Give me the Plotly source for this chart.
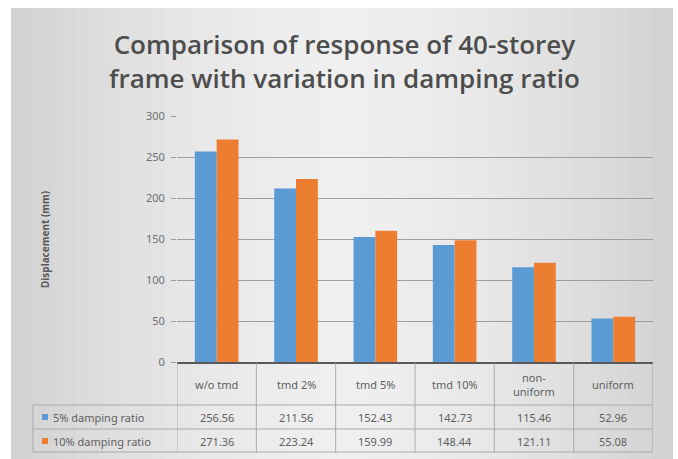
import plotly.graph_objects as go

categories = ["w/o tmd", "tmd 2%", "tmd 5%", "tmd 10%", "non-uniform", "uniform"]
header_labels = ["w/o tmd", "tmd 2%", "tmd 5%", "tmd 10%", "non-<br>uniform", "uniform"]
series_names = ["5% damping ratio", "10% damping ratio"]
damp5 = [256.56, 211.56, 152.43, 142.73, 115.46, 52.96]
damp10 = [271.36, 223.24, 159.99, 148.44, 121.11, 55.08]
y_ticks = [0, 50, 100, 150, 200, 250, 300]

colors = ["#5B9BD5", "#ED7D31"]
W, H = 678, 459
ML, MR, MT, MB = 177, 25, 116, 97
PW = W - ML - MR
PH = H - MT - MB

def px(x):
    return (x - ML) / PW

def py(y):
    return (H - MB - y) / PH

fig = go.Figure()
for name, vals, col in zip(series_names, [damp5, damp10], colors):
    fig.add_trace(go.Bar(x=categories, y=vals, name=name, marker=dict(color=col, line=dict(width=0)),
                         showlegend=False, hoverinfo="skip"))

shapes = []
# background gradient (horizontal strips)
x0, x1, y0, y1 = 11, 673, 8, 459
n = 60
for i in range(n):
    t = (i + 0.5) / n
    d = abs(t - 0.5) * 2
    v = int(round(239 - 30 * d ** 1.6))
    c = f"rgb({v},{v},{v})"
    xa = x0 + (x1 - x0) * i / n
    xb = x0 + (x1 - x0) * (i + 1) / n + 0.6
    shapes.append(dict(type="rect", xref="paper", yref="paper", x0=px(xa), x1=px(min(xb, x1)),
                       y0=py(y1), y1=py(y0), fillcolor=c, line=dict(width=0), layer="below"))

# table lines
tcol = "#a9a9a9"
row_lines = [405, 429, 452]
for ry in row_lines:
    shapes.append(dict(type="line", xref="paper", yref="paper", x0=px(33), x1=px(653),
                       y0=py(ry), y1=py(ry), line=dict(color=tcol, width=1)))
# vertical lines at category boundaries
for i in range(len(categories) + 1):
    shapes.append(dict(type="line", xref="x", yref="paper", x0=i - 0.5, x1=i - 0.5,
                       y0=py(363), y1=py(452), line=dict(color=tcol, width=1)))
shapes.append(dict(type="line", xref="paper", yref="paper", x0=px(33), x1=px(33),
                   y0=py(405), y1=py(452), line=dict(color=tcol, width=1)))
# legend keys
for k, ry in enumerate([417, 441]):
    shapes.append(dict(type="rect", xref="paper", yref="paper", x0=px(42), x1=px(48),
                       y0=py(ry + 3), y1=py(ry - 3), fillcolor=colors[k], line=dict(width=0)))

annotations = []
tf = dict(family="Noto Sans", size=11, color="#5f5f5f")
for i, lab in enumerate(header_labels):
    annotations.append(dict(x=i, xref="x", y=py(384), yref="paper", text=lab, showarrow=False,
                            font=tf, xanchor="center", yanchor="middle"))
for vals, ry in zip([damp5, damp10], [417, 441]):
    for i, v in enumerate(vals):
        annotations.append(dict(x=i, xref="x", y=py(ry), yref="paper", text=f"{v:.2f}", showarrow=False,
                                font=tf, xanchor="center", yanchor="middle"))
for name, ry in zip(series_names, [417, 441]):
    annotations.append(dict(x=px(51), xref="paper", y=py(ry), yref="paper", text=name, showarrow=False,
                            font=tf, xanchor="left", yanchor="middle"))
annotations.append(dict(x=px(45), xref="paper", y=py(240), yref="paper", text="<b>Displacement (mm)</b>",
                        showarrow=False, textangle=-90, font=dict(family="Noto Sans", size=10, color="#595959"),
                        xanchor="center", yanchor="middle"))
annotations.append(dict(x=px(344), xref="paper", y=py(61), yref="paper",
                        text="Comparison of response of 40-storey<br>frame with variation in damping ratio",
                        showarrow=False, font=dict(family="Open Sans", size=26, color="#4d4d4d", weight=600),
                        xanchor="center", yanchor="middle"))

fig.update_layout(
    width=W, height=H,
    margin=dict(l=ML, r=MR, t=MT, b=MB, autoexpand=False),
    paper_bgcolor="white", plot_bgcolor="rgba(0,0,0,0)",
    barmode="group", bargap=0.45, bargroupgap=0.0,
    shapes=shapes, annotations=annotations,
    xaxis=dict(showticklabels=False, showline=True, linecolor="#595959", linewidth=1.5,
               showgrid=False, ticks="", range=[-0.5, 5.5], fixedrange=True),
    yaxis=dict(range=[0, 300], tickvals=y_ticks, showgrid=True, gridcolor="#9e9e9e", gridwidth=1,
               zeroline=False, ticks="outside", ticklen=5, tickcolor="#9e9e9e",
               tickfont=dict(family="Noto Sans", size=11, color="#707070"), ticklabelstandoff=4),
    showlegend=False,
)
fig.write_html("out.html", config={"displayModeBar": False},
               post_script="document.body.style.margin='0';")
